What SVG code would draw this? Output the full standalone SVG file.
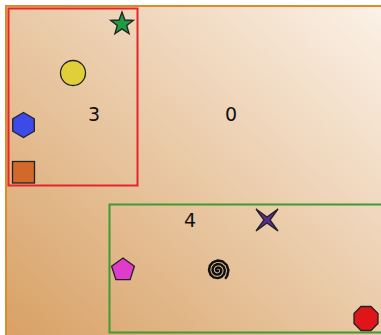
<svg xmlns="http://www.w3.org/2000/svg" width="381" height="335" viewBox="0 0 381 335">
<defs>
<linearGradient id="bg" x1="0" y1="1" x2="1" y2="0">
<stop offset="0" stop-color="#d79f62"/>
<stop offset="1" stop-color="#fcf3ea"/>
</linearGradient>
<style>
.lbl{font-family:"DejaVu Sans",sans-serif;font-size:19px;fill:#111;text-anchor:middle}
.sh{stroke:#222;stroke-width:1.3}
</style>
</defs>
<rect width="381" height="335" fill="#ffffff"/>
<g id="n0">
<rect x="6" y="6" width="390" height="345" fill="url(#bg)" stroke="#e08a2a" stroke-width="2"/>
<text class="lbl" x="231" y="121">0</text>
</g>
<g id="n3">
<rect x="8.5" y="8.5" width="129" height="177" fill="none" stroke="#e8252b" stroke-width="2"/>
<text class="lbl" x="94" y="121">3</text>
</g>
<g id="n4">
<rect x="109.5" y="204.5" width="290" height="128" fill="none" stroke="#3f9a34" stroke-width="2"/>
<text class="lbl" x="190" y="227">4</text>
</g>
<g id="star"><polygon class="sh" fill="#1f9a45" points="122,12 124.9,20 133.4,20.3 126.7,25.5 129.1,33.7 122,28.9 114.9,33.7 117.3,25.5 110.6,20.3 119.1,20"/></g>
<g id="circle"><circle class="sh" cx="73" cy="73" r="12.5" fill="#e0cf38"/></g>
<g id="hexagon"><polygon class="sh" fill="#3b4ae8" points="23.5,112.5 34.3,118.8 34.3,131.2 23.5,137.5 12.7,131.2 12.7,118.8"/></g>
<g id="square"><rect class="sh" x="12.5" y="161.5" width="22" height="21.5" fill="#d2692a"/></g>
<g id="pentagon"><polygon class="sh" fill="#e03ccc" points="123,258 134.4,266.3 130.1,279.7 115.9,279.7 111.6,266.3"/></g>
<g id="spiral"><polyline transform="translate(217.8,270.2) scale(1.12) translate(-218.5,-270)" fill="none" stroke="#111" stroke-width="2.2" stroke-linejoin="round" stroke-linecap="round" points="218.76,270.45 218.5,270.79 217.98,270.91 217.36,270.66 216.93,270 216.91,269.08 217.45,268.18 218.5,267.64 219.81,267.73 221.0,268.56 221.65,270 221.45,271.71 220.34,273.18 218.5,273.94 216.4,273.64 214.64,272.23 213.78,270 214.18,267.51 215.88,265.45 218.5,264.49 221.39,265.0 223.73,266.98 224.8,270 224.18,273.28 221.91,275.91 218.5,277.09 214.83,276.37 211.91,273.81 210.63,270 211.45,265.93 214.3,262.73 218.5,261.34 222.96,262.27 226.46,265.41 227.95,270 226.91,274.86 225.6,276.9"/></g>
<g id="cross"><polygon class="sh" fill="#5a2d8c" points="278,209 270,220 278,231 267,223 256,231 264,220 256,209 267,217"/></g>
<g id="octagon"><polygon class="sh" fill="#e0151a" points="361,306.5 371,306.5 378,313.5 378,323.5 371,330.5 361,330.5 354,323.5 354,313.5"/></g>
</svg>
